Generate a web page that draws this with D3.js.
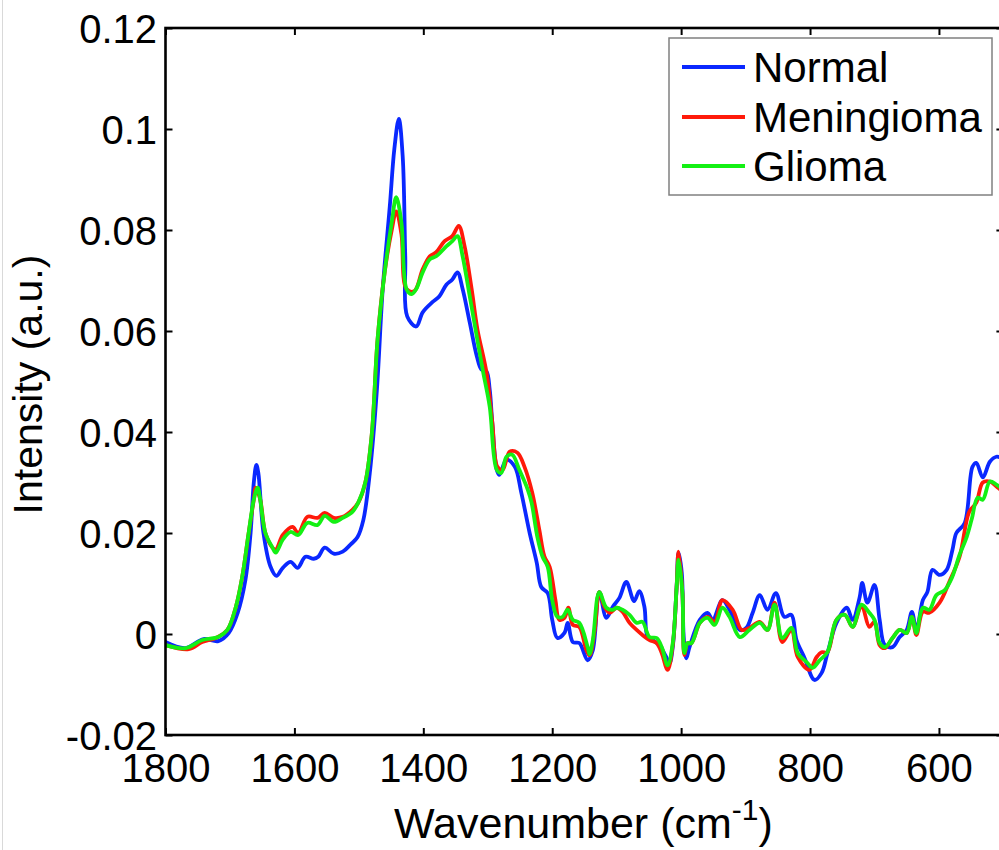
<!DOCTYPE html>
<html>
<head>
<meta charset="utf-8">
<script src="https://cdn.jsdelivr.net/npm/d3@7"></script>
<style>
  html, body { margin: 0; padding: 0; background: #fff; }
  svg { display: block; font-family: "Liberation Sans", Arial, sans-serif; }
</style>
</head>
<body>
<svg id="chart" width="999" height="850"></svg>
<script>
// ---- data ----
const seriesNames = ["Normal", "Meningioma", "Glioma"];
const seriesColors = ["#0a28ff", "#ff1a0a", "#14f014"];

const xTicks = [1800, 1600, 1400, 1200, 1000, 800, 600];
const yTicks = [-0.02, 0, 0.02, 0.04, 0.06, 0.08, 0.1, 0.12];
const yTickLabels = ["-0.02", "0", "0.02", "0.04", "0.06", "0.08", "0.1", "0.12"];

const wnNormal = [1800,1769,1741,1718,1702,1688,1676,1668,1663,1659,1656,1648,1637,1628,1618,1606,1595,1583,1570,1563,1553,1539,1525,1513,1502,1493,1483,1472,1463,1452,1445,1438,1432,1428,1425,1411,1401,1386,1375,1364,1355,1347,1339,1328,1317,1310,1302,1297,1293,1286,1282,1271,1258,1248,1235,1224,1217,1207,1200,1192,1181,1176,1168,1158,1145,1137,1127,1116,1106,1096,1085,1073,1065,1057,1052,1044,1034,1023,1018,1013,1007,1004,999,996,992,987,971,959,951,936,925,909,899,889,878,866,853,840,829,821,809,793,782,773,759,743,734,723,719,711,700,692,684,672,661,650,642,635,625,618,610,599,588,579,573,560,548,542,532,521,511,500];
const normal = [-0.0016,-0.0028,-0.0010,-0.0014,0.0002,0.0042,0.0107,0.0200,0.0300,0.0335,0.0319,0.0200,0.0133,0.0115,0.0131,0.0143,0.0131,0.0153,0.0149,0.0153,0.0171,0.0159,0.0163,0.0177,0.0192,0.0226,0.0319,0.0484,0.0683,0.0847,0.0960,0.1020,0.0946,0.0748,0.0629,0.0609,0.0637,0.0657,0.0669,0.0692,0.0702,0.0716,0.0683,0.0617,0.0550,0.0524,0.0520,0.0484,0.0419,0.0325,0.0315,0.0345,0.0331,0.0280,0.0200,0.0141,0.0093,0.0081,0.0028,-0.0008,0.0002,0.0022,-0.0016,-0.0018,-0.0052,-0.0032,0.0083,0.0032,0.0054,0.0071,0.0103,0.0065,0.0085,0.0054,-0.0006,-0.0012,-0.0022,-0.0046,-0.0058,-0.0026,0.0093,0.0161,0.0121,-0.0006,-0.0048,-0.0026,0.0028,0.0042,0.0028,0.0067,0.0048,0.0008,0.0012,0.0042,0.0077,0.0048,0.0081,0.0034,0.0038,-0.0012,-0.0046,-0.0091,-0.0077,-0.0038,0.0022,0.0052,0.0028,0.0073,0.0101,0.0062,0.0097,0.0028,-0.0022,-0.0026,-0.0006,0.0008,0.0044,0.0008,0.0067,0.0083,0.0127,0.0117,0.0127,0.0167,0.0200,0.0220,0.0331,0.0339,0.0310,0.0341,0.0351,0.0347];

const wnMeningioma = [1800,1764,1743,1722,1704,1691,1681,1671,1663,1660,1653,1645,1634,1629,1618,1603,1594,1580,1564,1553,1539,1525,1510,1501,1490,1480,1471,1460,1449,1442,1434,1426,1414,1401,1390,1380,1367,1355,1345,1336,1325,1316,1302,1293,1285,1277,1266,1254,1243,1231,1220,1212,1204,1195,1189,1181,1175,1168,1158,1147,1142,1134,1127,1119,1111,1100,1091,1080,1069,1060,1049,1038,1030,1021,1013,1007,1004,998,995,990,984,971,959,948,936,920,906,894,878,866,855,843,829,819,801,790,782,773,759,746,734,720,708,700,692,684,672,661,650,642,635,625,615,599,584,568,553,542,532,521,509,500];
const meningioma = [-0.0022,-0.0030,-0.0016,-0.0008,0.0008,0.0053,0.0113,0.0200,0.0266,0.0290,0.0266,0.0200,0.0171,0.0167,0.0196,0.0212,0.0200,0.0232,0.0230,0.0240,0.0230,0.0232,0.0246,0.0260,0.0300,0.0395,0.0583,0.0716,0.0800,0.0837,0.0792,0.0683,0.0679,0.0722,0.0748,0.0756,0.0778,0.0788,0.0808,0.0768,0.0683,0.0603,0.0518,0.0419,0.0331,0.0325,0.0361,0.0359,0.0331,0.0280,0.0206,0.0153,0.0133,0.0067,0.0028,0.0032,0.0052,0.0018,0.0014,-0.0032,-0.0042,0.0008,0.0083,0.0054,0.0042,0.0052,0.0044,0.0022,0.0008,-0.0002,-0.0012,-0.0018,-0.0038,-0.0071,-0.0022,0.0093,0.0163,0.0081,-0.0042,-0.0018,-0.0018,0.0022,0.0034,0.0024,0.0067,0.0048,0.0008,0.0012,0.0024,0.0008,0.0062,-0.0016,0.0008,-0.0046,-0.0071,-0.0046,-0.0036,-0.0036,0.0028,0.0038,0.0014,0.0056,0.0014,0.0024,-0.0022,-0.0028,-0.0008,0.0008,0.0002,0.0034,-0.0002,0.0044,0.0042,0.0062,0.0103,0.0153,0.0242,0.0260,0.0300,0.0302,0.0290,0.0282];

const wnGlioma = [1800,1769,1743,1718,1704,1691,1681,1671,1663,1657,1653,1645,1634,1629,1618,1606,1594,1580,1564,1553,1539,1525,1510,1501,1490,1480,1471,1460,1449,1442,1434,1426,1418,1411,1401,1390,1380,1364,1355,1347,1339,1328,1317,1308,1297,1286,1279,1271,1262,1251,1238,1232,1223,1215,1207,1200,1192,1184,1176,1168,1158,1145,1142,1137,1127,1116,1106,1100,1091,1080,1069,1060,1049,1038,1030,1021,1013,1007,1004,998,995,990,984,971,959,948,936,925,909,894,878,866,855,843,829,819,805,796,785,773,759,746,734,720,708,700,692,684,672,661,650,642,635,625,615,604,591,580,568,557,549,540,532,521,511,500];
const glioma = [-0.0022,-0.0028,-0.0012,-0.0006,0.0008,0.0053,0.0113,0.0200,0.0266,0.0290,0.0266,0.0200,0.0171,0.0161,0.0187,0.0202,0.0196,0.0220,0.0216,0.0234,0.0222,0.0230,0.0242,0.0260,0.0300,0.0395,0.0583,0.0716,0.0815,0.0865,0.0815,0.0683,0.0673,0.0683,0.0716,0.0742,0.0748,0.0768,0.0778,0.0788,0.0748,0.0669,0.0589,0.0524,0.0450,0.0325,0.0319,0.0351,0.0355,0.0325,0.0286,0.0260,0.0192,0.0153,0.0133,0.0067,0.0034,0.0034,0.0048,0.0028,0.0022,-0.0026,-0.0040,-0.0012,0.0083,0.0052,0.0048,0.0052,0.0048,0.0038,0.0022,0.0024,-0.0006,-0.0008,-0.0026,-0.0062,-0.0018,0.0093,0.0147,0.0081,-0.0038,-0.0018,-0.0018,0.0022,0.0032,0.0018,0.0052,0.0034,-0.0006,0.0008,0.0022,0.0008,0.0058,-0.0008,0.0012,-0.0038,-0.0056,-0.0067,-0.0052,-0.0036,0.0028,0.0038,0.0014,0.0058,0.0042,0.0028,-0.0018,-0.0026,-0.0008,0.0008,0.0002,0.0034,0.0002,0.0052,0.0048,0.0077,0.0087,0.0111,0.0157,0.0192,0.0228,0.0270,0.0266,0.0302,0.0296,0.0286];

// ---- drawing ----
const svg = d3.select("#chart");
const W = 999, H = 850;
const m = { left: 165.5, top: 28, right: 1003.4, bottom: 735 };

const x = d3.scaleLinear().domain([1800, 500]).range([m.left, m.right]);
const y = d3.scaleLinear().domain([-0.02, 0.12]).range([m.bottom, m.top]);

// faint border at the left edge of the picture
svg.append("line").attr("x1", 2.5).attr("x2", 2.5).attr("y1", 0).attr("y2", H)
  .attr("stroke", "#d9d9d9").attr("stroke-width", 1);

svg.append("defs").append("clipPath").attr("id", "clip")
  .append("rect").attr("x", m.left).attr("y", m.top)
  .attr("width", m.right - m.left).attr("height", m.bottom - m.top);

const series = [
  { name: seriesNames[0], color: seriesColors[0], wn: wnNormal, v: normal },
  { name: seriesNames[1], color: seriesColors[1], wn: wnMeningioma, v: meningioma },
  { name: seriesNames[2], color: seriesColors[2], wn: wnGlioma, v: glioma }
];

const line = d3.line()
  .x(d => x(d[0])).y(d => y(d[1]))
  .curve(d3.curveCatmullRom.alpha(0.5));

const gLines = svg.append("g").attr("clip-path", "url(#clip)");
series.forEach(s => {
  gLines.append("path")
    .datum(s.wn.map((w, i) => [w, s.v[i]]))
    .attr("fill", "none")
    .attr("stroke", s.color)
    .attr("stroke-width", 3.8)
    .attr("stroke-linejoin", "round")
    .attr("stroke-linecap", "round")
    .attr("d", line);
});

// axes (ticks inward on all four sides)
const tickLen = 7;
const fontSize = 40;
const axBottom = d3.axisBottom(x).tickValues(xTicks).tickSize(-tickLen).tickFormat(d3.format("d"));
const axTop = d3.axisTop(x).tickValues(xTicks).tickSize(-tickLen).tickFormat("");
const axLeft = d3.axisLeft(y).tickValues(yTicks).tickSize(-tickLen)
  .tickFormat((d, i) => yTickLabels[i]);
const axRight = d3.axisRight(y).tickValues(yTicks).tickSize(-tickLen).tickFormat("");

function style(g) {
  g.select(".domain").remove();
  g.selectAll(".tick line").attr("stroke", "#000").attr("stroke-width", 2);
  g.selectAll(".tick text").attr("fill", "#000").attr("font-size", fontSize)
    .attr("font-family", "'Liberation Sans', Arial, sans-serif");
}

svg.append("g").attr("transform", `translate(0,${m.bottom})`).call(axBottom).call(style)
  .selectAll(".tick text").attr("dy", null).attr("y", 47);
svg.append("g").attr("transform", `translate(0,${m.top})`).call(axTop).call(style);
svg.append("g").attr("transform", `translate(${m.left},0)`).call(axLeft).call(style)
  .selectAll(".tick text").attr("x", -8.5).attr("dy", "0.36em");
svg.append("g").attr("transform", `translate(${m.right},0)`).call(axRight).call(style);

// box
svg.append("rect").attr("x", m.left).attr("y", m.top)
  .attr("width", m.right - m.left).attr("height", m.bottom - m.top)
  .attr("fill", "none").attr("stroke", "#000").attr("stroke-width", 2.6);

// axis titles
const xt = svg.append("text").attr("x", (m.left + m.right) / 2 - 1).attr("y", 838)
  .attr("text-anchor", "middle").attr("font-size", 43).attr("fill", "#000");
xt.append("tspan").text("Wavenumber (cm");
xt.append("tspan").attr("font-size", 30).attr("dy", -18).text("-1");
xt.append("tspan").attr("dy", 18).text(")");

svg.append("text")
  .attr("transform", `translate(42,${(m.top + m.bottom) / 2 + 3}) rotate(-90)`)
  .attr("text-anchor", "middle").attr("font-size", 41).attr("fill", "#000")
  .text("Intensity (a.u.)");

// legend
const lg = svg.append("g");
lg.append("rect").attr("x", 669).attr("y", 38).attr("width", 323).attr("height", 157)
  .attr("fill", "#fff").attr("stroke", "#808080").attr("stroke-width", 1.5);
const legendY = [67, 117, 166];
series.forEach((s, i) => {
  lg.append("line").attr("x1", 682).attr("x2", 745)
    .attr("y1", legendY[i]).attr("y2", legendY[i])
    .attr("stroke", s.color).attr("stroke-width", 3.8);
  lg.append("text").attr("x", 753).attr("y", legendY[i]).attr("dy", "0.36em")
    .attr("font-size", 42).attr("fill", "#000").text(s.name);
});
</script>
</body>
</html>
